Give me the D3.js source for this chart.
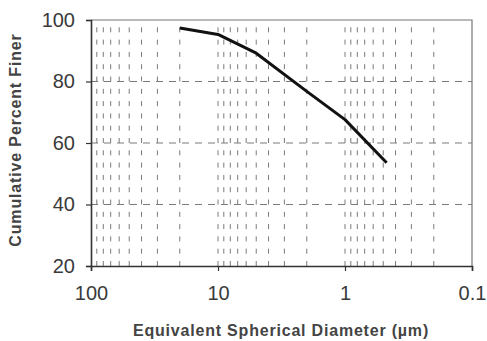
<!DOCTYPE html>
<html>
<head>
<meta charset="utf-8">
<script src="https://cdn.jsdelivr.net/npm/d3@7"></script>
<style>
  body { margin: 0; background: #fff; }
  svg { display: block; font-family: "Liberation Sans", Arial, sans-serif; }
</style>
</head>
<body>
<div id="chart"></div>
<script>
// data
const diameters = [20, 10, 5, 2, 1, 0.47];          // µm
const percentFiner = [97.4, 95.3, 89.2, 76.8, 67.6, 53.6];
const xTickValues = [100, 10, 1, 0.1];
const xTickLabels = ["100", "10", "1", "0.1"];
const yTickValues = [20, 40, 60, 80, 100];

// set the dimensions and margins of the graph
const W = 487, H = 341;
const margin = {top: 20, right: 15, bottom: 75, left: 91};

const svg = d3.select("#chart")
  .append("svg")
    .attr("width", W)
    .attr("height", H);

const x = d3.scaleLog()
  .domain([100, 0.1])
  .range([margin.left, W - margin.right]);

const y = d3.scaleLinear()
  .domain([20, 100])
  .range([H - margin.bottom, margin.top]);

// vertical minor gridlines
const minor = x.ticks().filter(d => d < 100 && d > 0.1);
svg.append("g")
  .selectAll("line")
  .data(minor)
  .join("line")
    .attr("x1", d => x(d)).attr("x2", d => x(d))
    .attr("y1", y(20)).attr("y2", y(100))
    .attr("stroke", "#7a7a7a")
    .attr("stroke-width", 1)
    .attr("stroke-dasharray", "5,7.3");

// horizontal gridlines
svg.append("g")
  .selectAll("line")
  .data(yTickValues.filter(d => d > 20 && d < 100))
  .join("line")
    .attr("x1", x(100)).attr("x2", x(0.1))
    .attr("y1", d => y(d)).attr("y2", d => y(d))
    .attr("stroke", "#7a7a7a")
    .attr("stroke-width", 1)
    .attr("stroke-dasharray", "7,6");

// frame top / right
svg.append("path")
  .attr("d", `M${x(100)},${y(100)}H${x(0.1)}V${y(20)}`)
  .attr("fill", "none")
  .attr("stroke", "#777")
  .attr("stroke-width", 1.2);

// X axis
const xAxis = svg.append("g")
  .attr("transform", `translate(0, ${y(20)})`)
  .call(d3.axisBottom(x)
    .tickValues(xTickValues)
    .tickFormat((d, i) => xTickLabels[i])
    .tickSize(5)
    .tickPadding(15));
xAxis.select(".domain").attr("stroke", "#333").attr("stroke-width", 1.6);
xAxis.selectAll(".tick line").attr("stroke", "#333").attr("stroke-width", 1.2);
xAxis.selectAll("text")
  .attr("fill", "#3a3a3a")
  .style("font-size", "20px");

// Y axis
const yAxis = svg.append("g")
  .attr("transform", `translate(${x(100)}, 0)`)
  .call(d3.axisLeft(y)
    .tickValues(yTickValues)
    .tickSize(5)
    .tickPadding(11));
yAxis.select(".domain").attr("stroke", "#333").attr("stroke-width", 1.6);
yAxis.selectAll(".tick line").attr("stroke", "#333").attr("stroke-width", 1.2);
yAxis.selectAll("text")
  .attr("fill", "#3a3a3a")
  .style("font-size", "20px");

// the curve
const line = d3.line()
  .x((d, i) => x(diameters[i]))
  .y(d => y(d));

svg.append("path")
  .datum(percentFiner)
  .attr("d", line)
  .attr("fill", "none")
  .attr("stroke", "#111")
  .attr("stroke-width", 3)
  .attr("stroke-linejoin", "round");

// axis titles
svg.append("text")
  .attr("x", 281)
  .attr("y", 336)
  .attr("text-anchor", "middle")
  .attr("fill", "#444")
  .style("font-size", "16px")
  .style("font-weight", "bold")
  .style("letter-spacing", "0.8px")
  .text("Equivalent Spherical Diameter (µm)");

svg.append("text")
  .attr("transform", `translate(21, 140) rotate(-90)`)
  .attr("text-anchor", "middle")
  .attr("fill", "#444")
  .style("font-size", "16px")
  .style("font-weight", "bold")
  .style("letter-spacing", "0.85px")
  .text("Cumulative Percent Finer");
</script>
</body>
</html>
